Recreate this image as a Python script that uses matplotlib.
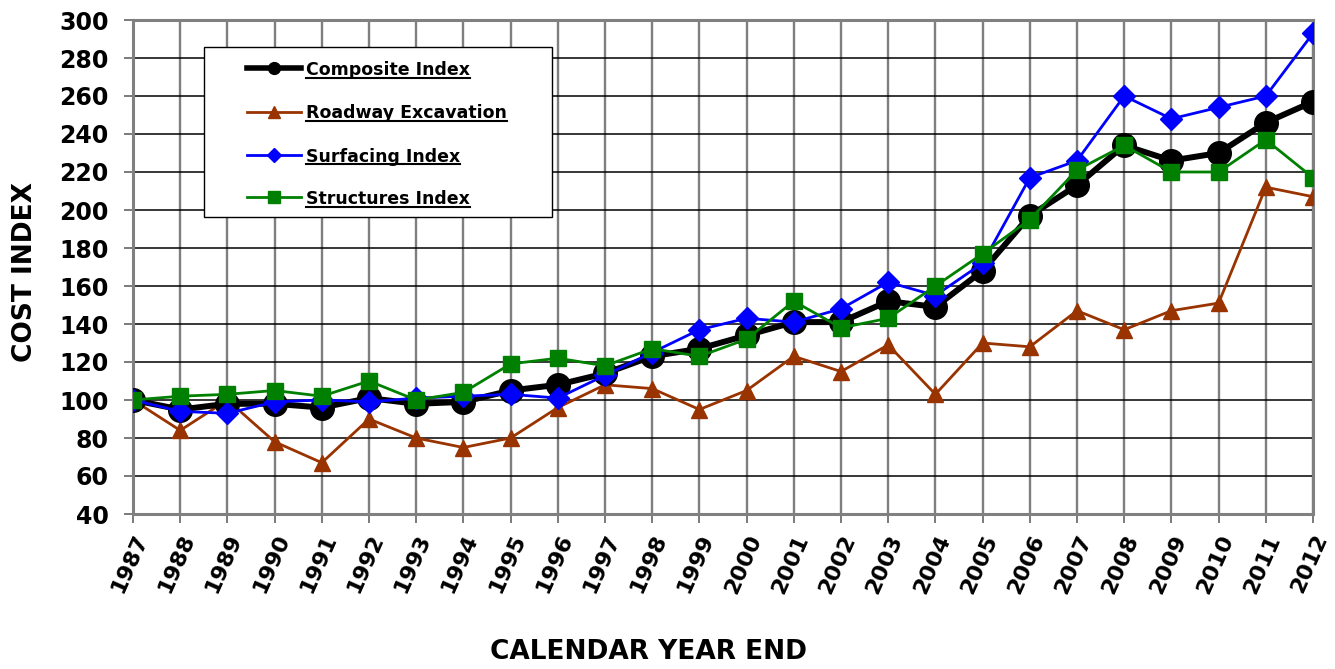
import matplotlib
matplotlib.use("Agg")
import matplotlib.pyplot as plt
from matplotlib.lines import Line2D
from matplotlib.patches import Rectangle

years = list(range(1987, 2013))
composite = [100, 95, 98, 98, 96, 101, 98, 99, 105, 108, 114, 123, 127, 134, 141, 141,
             152, 149, 168, 197, 213, 234, 226, 230, 246, 257]
roadway = [100, 84, 100, 78, 67, 90, 80, 75, 80, 96, 108, 106, 95, 105, 123, 115,
           129, 103, 130, 128, 147, 137, 147, 151, 212, 207]
surfacing = [100, 94, 93, 99, 100, 99, 101, 102, 103, 101, 113, 125, 137, 143, 141, 148,
             162, 155, 172, 217, 226, 260, 248, 254, 260, 293]
structures = [100, 102, 103, 105, 102, 110, 100, 104, 119, 122, 118, 127, 123, 132, 152, 138,
              143, 160, 177, 195, 221, 234, 220, 220, 237, 217]
yticks = list(range(40, 301, 20))

series_labels = ['Composite Index', 'Roadway Excavation', 'Surfacing Index', 'Structures Index']

plt.rcParams['font.family'] = ['DejaVu Sans']
plt.rcParams['font.weight'] = 'bold'

W, H = 1335, 669
fig = plt.figure(figsize=(W / 100, H / 100), dpi=100)
ax = fig.add_axes([133 / W, 1 - 514 / H, (1313 - 133) / W, (514 - 20) / H])

styles = {
    'Composite Index': dict(color='black', lw=4.3, marker='o', ms=17, zorder=4),
    'Roadway Excavation': dict(color='#993300', lw=2.0, marker='^', ms=11, zorder=3),
    'Surfacing Index': dict(color='#0000FF', lw=2.0, marker='D', ms=11, zorder=5),
    'Structures Index': dict(color='#008000', lw=2.0, marker='s', ms=11.5, zorder=6),
}
data = {'Composite Index': composite, 'Roadway Excavation': roadway,
        'Surfacing Index': surfacing, 'Structures Index': structures}
for lab in series_labels:
    ax.plot(years, data[lab], label=lab, **styles[lab])

ax.set_xlim(1987, 2012)
ax.set_ylim(40, 300)
ax.set_xticks(years)
ax.set_xticklabels([str(y) for y in years], rotation=66, ha='right', va='top',
                   rotation_mode='anchor', fontsize=16, fontweight='bold')
ax.set_yticks(yticks)
ax.set_yticklabels([str(v) for v in yticks], fontsize=17, fontweight='bold')
ax.tick_params(axis='both', direction='out', length=6.5, color='#707070', width=1.3)
ax.tick_params(axis='y', pad=11)
ax.tick_params(axis='x', pad=6)

for x in years:
    ax.axvline(x, color='#7f7f7f', lw=1.7, zorder=1)
for v in yticks:
    ax.axhline(v, color='black', lw=1.1, zorder=1)
for s in ax.spines.values():
    s.set_color('#808080')
    s.set_linewidth(2.2)


def fx(px):
    return px / W


def fy(py):
    return 1 - py / H


fig.text(fx(25), fy(272), 'COST INDEX', rotation=90, ha='center', va='center',
         fontsize=19, fontweight='bold')
fig.text(fx(648), fy(652), 'CALENDAR YEAR END', ha='center', va='center',
         fontsize=19, fontweight='bold')

# legend box
fig.add_artist(Rectangle((fx(204), fy(217)), fx(552) - fx(204), fy(47) - fy(217),
                         transform=fig.transFigure, facecolor='white', edgecolor='black',
                         lw=1.0, zorder=10))
leg_y = [68, 111.5, 154.5, 197]
leg_ms = {'Composite Index': 8.5, 'Roadway Excavation': 8, 'Surfacing Index': 7,
          'Structures Index': 8}
leg_lw = {'Composite Index': 4.0, 'Roadway Excavation': 2.0, 'Surfacing Index': 2.0,
          'Structures Index': 2.0}
texts = []
for lab, yy in zip(series_labels, leg_y):
    st = styles[lab]
    fig.add_artist(Line2D([fx(247), fx(301)], [fy(yy), fy(yy)], transform=fig.transFigure,
                          color=st['color'], lw=leg_lw[lab], zorder=11))
    fig.add_artist(Line2D([fx(274)], [fy(yy)], transform=fig.transFigure, color=st['color'],
                          marker=st['marker'], ms=leg_ms[lab], lw=0, zorder=12))
    t = fig.text(fx(306), fy(yy), lab, ha='left', va='center_baseline', fontsize=12.5,
                 fontweight='bold', zorder=12)
    texts.append(t)

fig.canvas.draw()
renderer = fig.canvas.get_renderer()
inv = fig.transFigure.inverted()
for t in texts:
    bb = t.get_window_extent(renderer)
    (x0, y0), (x1, y1) = inv.transform([(bb.x0, bb.y0), (bb.x1, bb.y1)])
    yl = y0 + 1.5 / H
    fig.add_artist(Line2D([x0, x1], [yl, yl], transform=fig.transFigure, color='black',
                          lw=1.5, zorder=20))

fig.savefig('out.png', dpi=100)
